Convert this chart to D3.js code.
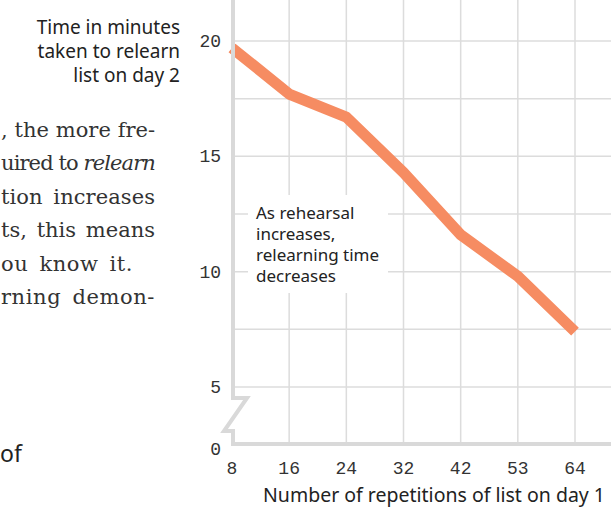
<!DOCTYPE html>
<html>
<head>
<meta charset="utf-8">
<script src="https://cdn.jsdelivr.net/npm/d3@7"></script>
<style>
  html, body { margin: 0; padding: 0; background: #fff; }
  svg { display: block; }
</style>
</head>
<body>
<div id="chart"></div>
<script>
// repetitions on day 1 and minutes to relearn on day 2
var reps = [8, 16, 24, 32, 42, 53, 64];
var minutes = [19.7, 17.7, 16.7, 14.3, 11.6, 9.8, 7.4];
var yTicks = [0, 5, 10, 15, 20];
var yGrid = [5, 7.5, 10, 12.5, 15, 17.5, 20];

var yTitle = ["Time in minutes", "taken to relearn", "list on day 2"];
var xTitle = "Number of repetitions of list on day 1";
var note = ["As rehearsal", "increases,", "relearning time", "decreases"];
var bodyLines = [", the more fre-", "uired to |relearn", "tion increases", "ts, this means", "ou know it.", "rning demon-"];

var width = 611;
var height = 508;

var svg = d3.select("#chart")
    .append("svg")
    .attr("width", width)
    .attr("height", height);

// x is evenly spaced by category, y has a break between 0 and 5
var x = d3.scalePoint()
    .domain(reps)
    .range([232, 575]);
var y = d3.scaleLinear()
    .domain([0, 5, 20])
    .range([444, 387, 41]);

var axisX = x(reps[0]) + 1;
var gridColor = "#dcdcdc";
var sans = "Noto Sans";

var g = svg.append("g");

// grid
g.selectAll(".hgrid")
    .data(yGrid)
    .enter()
    .append("line")
    .attr("class", "hgrid")
    .attr("x1", axisX)
    .attr("x2", width)
    .attr("y1", function(d){ return y(d); })
    .attr("y2", function(d){ return y(d); })
    .attr("stroke", gridColor)
    .attr("stroke-width", 1.5);

g.selectAll(".vgrid")
    .data(reps.slice(1))
    .enter()
    .append("line")
    .attr("class", "vgrid")
    .attr("x1", function(d){ return x(d); })
    .attr("x2", function(d){ return x(d); })
    .attr("y1", 0)
    .attr("y2", y(0))
    .attr("stroke", gridColor)
    .attr("stroke-width", 1.5);

// white box behind the annotation
g.append("rect")
    .attr("x", 248)
    .attr("y", 195)
    .attr("width", 140)
    .attr("height", 98)
    .attr("fill", "#fff");

// the curve
var line = d3.line()
    .x(function(d, i){ return x(reps[i]); })
    .y(function(d){ return y(d); });

g.append("path")
    .datum(minutes)
    .attr("d", line)
    .attr("fill", "none")
    .attr("stroke", "#f68c62")
    .attr("stroke-width", 11)
    .attr("stroke-linejoin", "round")
    .attr("stroke-linecap", "butt");

// axes with the break symbol
var y5 = y(5);
var breakPath = d3.path();
breakPath.moveTo(axisX, 0);
breakPath.lineTo(axisX, y5 + 11);
breakPath.lineTo(axisX + 14, y5 + 11);
breakPath.lineTo(axisX - 9, y5 + 44);
breakPath.lineTo(axisX, y5 + 44);
breakPath.lineTo(axisX, y(0));
breakPath.lineTo(width, y(0));

g.append("path")
    .attr("d", breakPath.toString())
    .attr("fill", "none")
    .attr("stroke", "#d9d9d9")
    .attr("stroke-width", 4)
    .attr("stroke-linejoin", "miter");

// tick labels
g.selectAll(".ylab")
    .data(yTicks)
    .enter()
    .append("text")
    .attr("class", "ylab")
    .attr("x", 221)
    .attr("y", function(d){ return y(d) + (d === 0 ? 11 : 6); })
    .attr("text-anchor", "end")
    .attr("font-family", "Liberation Mono")
    .attr("font-size", 18)
    .attr("fill", "#333")
    .text(function(d){ return d; });

g.selectAll(".xlab")
    .data(reps)
    .enter()
    .append("text")
    .attr("class", "xlab")
    .attr("x", function(d){ return x(d); })
    .attr("y", 474)
    .attr("text-anchor", "middle")
    .attr("font-family", "Liberation Mono")
    .attr("font-size", 18)
    .attr("fill", "#333")
    .text(function(d){ return d; });

// titles
g.append("g")
    .selectAll("text")
    .data(yTitle)
    .enter()
    .append("text")
    .attr("x", 180)
    .attr("y", function(d, i){ return 34 + i * 24; })
    .attr("text-anchor", "end")
    .attr("font-family", sans)
    .attr("font-size", 19)
    .attr("fill", "#222")
    .text(function(d){ return d; });

g.append("text")
    .attr("x", 605)
    .attr("y", 502)
    .attr("text-anchor", "end")
    .attr("font-family", sans)
    .attr("font-size", 19.5)
    .attr("fill", "#222")
    .text(xTitle);

g.append("g")
    .selectAll("text")
    .data(note)
    .enter()
    .append("text")
    .attr("x", 256)
    .attr("y", function(d, i){ return 219 + i * 21; })
    .attr("font-family", sans)
    .attr("font-size", 17)
    .attr("fill", "#222")
    .text(function(d){ return d; });

// page text beside the figure, justified so each line starts at the left edge
var body = g.append("g")
    .selectAll("text")
    .data(bodyLines)
    .enter()
    .append("text")
    .attr("x", function(d){ return d === "ou know it." ? 133 : 155; })
    .attr("y", function(d, i){ return 137 + i * 33.4; })
    .attr("text-anchor", "end")
    .attr("font-family", "DejaVu Serif")
    .attr("font-size", 21)
    .attr("fill", "#333");

body.each(function(d){
    var parts = d.split("|");
    var t = d3.select(this);
    t.append("tspan").text(parts[0]);
    if (parts.length > 1) {
        t.append("tspan").attr("font-style", "italic").text(parts[1]);
    }
    var right = +t.attr("x");
    var plain = d.replace("|", "");
    var spaces = plain.split(" ").length - 1;
    var extra = (right - 1) - this.getComputedTextLength();
    var ws = Math.max(0, Math.min(extra / Math.max(spaces, 1), 4));
    t.attr("word-spacing", ws);
    var rest = extra - ws * spaces;
    t.attr("letter-spacing", rest / plain.length);
});

g.append("text")
    .attr("x", 0)
    .attr("y", 462)
    .attr("font-family", sans)
    .attr("font-size", 23)
    .attr("fill", "#222")
    .text("of");
</script>
</body>
</html>
